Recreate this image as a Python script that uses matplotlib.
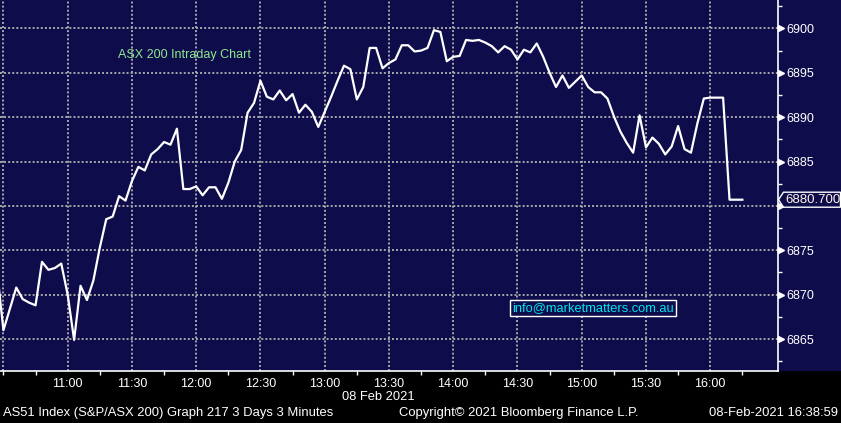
import numpy as np
import matplotlib
matplotlib.use("Agg")
import matplotlib.pyplot as plt
import matplotlib.ticker as mticker
import matplotlib.transforms as mtransforms
from matplotlib.patches import Polygon, Rectangle

plt.rcParams['font.family'] = ['Liberation Sans', 'DejaVu Sans']

# ASX 200 (AS51) 3 minute bars, 08 Feb 2021, first bar 10:27
start_min = 10 * 60 + 27
bar_step = 3
prices = [
    6872.7, 6866.0, 6868.4, 6870.8, 6869.5, 6869.1, 6868.8, 6873.7, 6872.8, 6873.0,
    6873.5, 6870.0, 6864.9, 6871.0, 6869.4, 6871.6, 6875.3, 6878.5, 6878.8, 6881.1,
    6880.6, 6882.8, 6884.4, 6884.0, 6885.8, 6886.4, 6887.2, 6886.9, 6888.7, 6881.9,
    6881.9, 6882.2, 6881.2, 6882.1, 6882.1, 6880.8, 6882.6, 6885.0, 6886.3, 6890.5,
    6891.6, 6894.1, 6892.3, 6892.0, 6893.0, 6891.9, 6892.6, 6890.5, 6891.4, 6890.6,
    6888.9, 6890.6, 6892.3, 6894.1, 6895.8, 6895.4, 6892.0, 6893.4, 6897.8, 6897.8,
    6895.5, 6896.1, 6896.5, 6898.1, 6898.1, 6897.4, 6897.5, 6897.8, 6899.8, 6899.6,
    6896.3, 6896.8, 6896.9, 6898.7, 6898.6, 6898.7, 6898.4, 6898.0, 6897.3, 6898.0,
    6897.6, 6896.5, 6897.6, 6897.3, 6898.3, 6896.8, 6895.0, 6893.4, 6894.7, 6893.3,
    6894.0, 6894.7, 6893.4, 6892.8, 6892.8, 6892.1, 6890.1, 6888.4, 6887.1, 6886.0,
    6890.2, 6886.6, 6887.7, 6887.0, 6885.8, 6886.7, 6889.0, 6886.4, 6886.0, 6889.3,
    6892.1, 6892.2, 6892.2, 6892.2, 6880.7, 6880.7, 6880.7,
]
last_price = 6880.700
y_ticks = [6865, 6870, 6875, 6880, 6885, 6890, 6895, 6900]
y_labels = ['6865', '6870', '6875', '', '6885', '6890', '6895', '6900']
x_ticks = [630, 660, 690, 720, 750, 780, 810, 840, 870, 900, 930, 960]

times = start_min + bar_step * np.arange(len(prices))

navy = '#0f0c4b'
W, H = 841, 423

fig = plt.figure(figsize=(W / 100, H / 100), dpi=100, facecolor='black')
fig.patches.append(Rectangle((0, 52 / H), 1, 1 - 52 / H, transform=fig.transFigure,
                             facecolor=navy, edgecolor='none', zorder=-5))
ax = fig.add_axes([0, 52 / H, 777.5 / W, 371 / H])
ax.set_facecolor(navy)

ax.plot(times, prices, color='white', lw=1.6, zorder=3)

ax.set_xlim(628.4, 991.4)
ax.set_ylim(6861.4, 6903.2)

# axes look
for s in ['top', 'left']:
    ax.spines[s].set_visible(False)
for s in ['right', 'bottom']:
    ax.spines[s].set_color('white')
    ax.spines[s].set_linewidth(1.2)

ax.yaxis.tick_right()
ax.set_yticks(y_ticks)
ax.set_yticklabels(y_labels)
ax.yaxis.set_minor_locator(mticker.MultipleLocator(2.5))
ax.tick_params(axis='y', which='major', length=0, pad=6.5, labelsize=9, labelcolor='white')
ax.tick_params(axis='y', which='minor', length=3, width=1, color='white', direction='out')

def hhmm(v, pos=None):
    v = int(round(v))
    if v == 630:
        return ''
    return '%02d:%02d' % (v // 60, v % 60)

ax.set_xticks(x_ticks)
ax.xaxis.set_major_formatter(mticker.FuncFormatter(hhmm))
ax.xaxis.remove_overlapping_locs = False
ax.set_xticks([630] + list(range(645, 990, 30)), minor=True)
ax.tick_params(axis='x', which='major', length=0, pad=5, labelsize=9, labelcolor='white')
ax.tick_params(axis='x', which='minor', length=3, width=1, color='white', direction='out')

ax.grid(True, which='major', color='#a8a8a8', lw=1.4, ls=(0, (1, 1.1)), zorder=1)

# arrow heads at the major price ticks
tri_trans = mtransforms.offset_copy(ax.get_yaxis_transform(), fig=fig, x=3, y=0, units='dots')
ax.plot([1] * len(y_ticks), y_ticks, ls='', marker='>', ms=5, color='white',
        transform=tri_trans, clip_on=False, zorder=4)

# last price tag
anchor = mtransforms.IdentityTransform() + mtransforms.ScaledTranslation(
    1.0, last_price, ax.get_yaxis_transform())
tag = Polygon([(1, 0), (6, 7.5), (63, 7.5), (63, -7.5), (6, -7.5)], closed=True,
              transform=anchor, facecolor=navy, edgecolor='white', lw=1, clip_on=False, zorder=5)
ax.add_patch(tag)
ax.annotate('%.3f' % last_price, xy=(1.0, last_price), xycoords=ax.get_yaxis_transform(),
            xytext=(35, 0), textcoords='offset pixels', ha='center', va='center',
            fontsize=9.5, color='#fff4e6', annotation_clip=False, zorder=6)

# chart texts
ax.text(118 / 777.5, 0.852, 'ASX 200 Intraday Chart', transform=ax.transAxes,
        color='#8ee88e', fontsize=9, va='center', ha='left')
ax.text(593 / 777.5, (371 - 308) / 371, 'info@marketmatters.com.au', transform=ax.transAxes,
        color='#00e4f0', fontsize=9.3, va='center', ha='center', zorder=6,
        bbox=dict(boxstyle='square,pad=0.15', facecolor=navy, edgecolor='white', lw=1))

fig.text(378 / W, 1 - 397 / H, '08 Feb 2021', color='white', fontsize=9.3, ha='center', va='center')
fig.text(3 / W, 1 - 413 / H, 'AS51 Index (S&P/ASX 200) Graph 217 3 Days 3 Minutes',
         color='white', fontsize=9.4, ha='left', va='center')
fig.text(399 / W, 1 - 413 / H, 'Copyright\u00a9 2021 Bloomberg Finance L.P.',
         color='white', fontsize=9.4, ha='left', va='center')
fig.text(838 / W, 1 - 413 / H, '08-Feb-2021 16:38:59', color='white', fontsize=9.4,
         ha='right', va='center')

fig.savefig('out.png', dpi=100, facecolor='black')
